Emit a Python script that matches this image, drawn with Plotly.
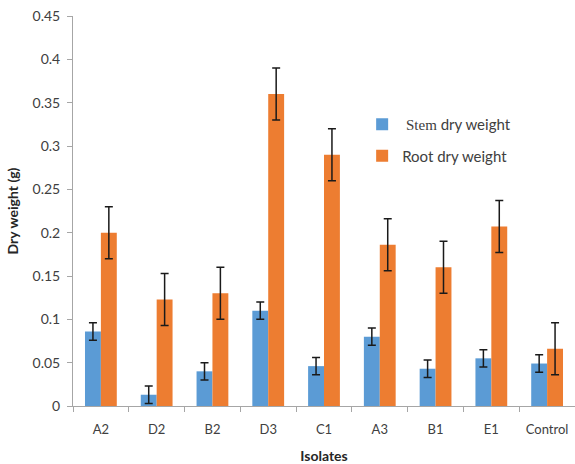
import plotly.graph_objects as go

categories = ["A2", "D2", "B2", "D3", "C1", "A3", "B1", "E1", "Control"]
stem = [0.086, 0.013, 0.040, 0.110, 0.046, 0.080, 0.043, 0.055, 0.049]
stem_err = [0.010, 0.010, 0.010, 0.010, 0.010, 0.010, 0.010, 0.010, 0.010]
root = [0.200, 0.123, 0.130, 0.360, 0.290, 0.186, 0.160, 0.207, 0.066]
root_err = [0.030, 0.030, 0.030, 0.030, 0.030, 0.030, 0.030, 0.030, 0.030]
y_ticks = [0, 0.05, 0.1, 0.15, 0.2, 0.25, 0.3, 0.35, 0.4, 0.45]
y_tick_text = ["0", "0.05", "0.1", "0.15", "0.2", "0.25", "0.3", "0.35", "0.4", "0.45"]

font_family = "Lato, Open Sans, sans-serif"

fig = go.Figure()
fig.add_trace(go.Bar(
    x=categories, y=stem,
    name=" <span style='font-family:Liberation Serif'>Stem</span> dry weight",
    marker=dict(color="#5B9BD5", line=dict(width=0)),
    error_y=dict(type="data", array=stem_err, color="#1a1a1a", thickness=1.5, width=4),
    legendgroup="a",
))
fig.add_trace(go.Bar(
    x=categories, y=root, name="Root dry weight",
    marker=dict(color="#ED7D31", line=dict(width=0)),
    error_y=dict(type="data", array=root_err, color="#1a1a1a", thickness=1.5, width=4),
    legendgroup="b",
))

fig.update_layout(
    width=575, height=464,
    margin=dict(l=73, r=0, t=16, b=58),
    paper_bgcolor="white", plot_bgcolor="white",
    barmode="group", bargap=0.43, bargroupgap=0,
    font=dict(family=font_family, size=13, color="#404040"),
    legend=dict(x=0.576, y=0.764, xanchor="left", yanchor="top",
                bgcolor="rgba(0,0,0,0)", font=dict(size=15, color="#404040"),
                traceorder="grouped", tracegroupgap=9, itemwidth=30),
    xaxis=dict(
        showline=True, linecolor="#a6a6a6", linewidth=1,
        ticks="outside", tickson="boundaries", ticklen=5, tickcolor="#a6a6a6",
        showgrid=False, ticklabelstandoff=11,
        title=dict(text="<b>Isolates</b>", font=dict(size=14, color="#262626"), standoff=15),
        tickfont=dict(size=13, color="#404040"),
    ),
    yaxis=dict(
        range=[0, 0.45], tickvals=y_ticks, ticktext=y_tick_text,
        showline=True, linecolor="#a6a6a6", linewidth=1,
        ticks="outside", ticklen=5, tickcolor="#a6a6a6",
        showgrid=False, zeroline=False, ticklabelstandoff=4,
        ticklabeloverflow="allow",
        title=dict(text="<b>Dry weight (g)</b>", font=dict(size=14, color="#262626"), standoff=10),
        tickfont=dict(size=14, color="#404040"),
    ),
)

fig.write_html(
    "out.html",
    config={"displayModeBar": False},
    post_script="document.body.style.margin='0';document.body.style.overflow='hidden';",
)
